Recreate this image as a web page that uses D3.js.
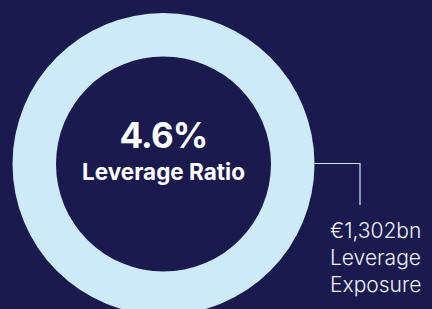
<!DOCTYPE html>
<html>
<head>
<meta charset="utf-8">
<script src="https://cdn.jsdelivr.net/npm/d3@7"></script>
<style>
  html, body { margin: 0; padding: 0; background: #1b1a4f; }
  svg { display: block; }
</style>
</head>
<body>
<div id="chart"></div>
<script>
// values
const ratioValue = [4.6];
const ratioLabel = ['Leverage Ratio'];
const exposureValue = [1302];
const exposureLabel = ['Leverage', 'Exposure'];

const width = 432, height = 309;
const cx = 163.5, cy = 164;
const outerR = 151, innerR = 107.5;

const svg = d3.select('#chart')
  .append('svg')
  .attr('width', width)
  .attr('height', height);

svg.append('rect')
  .attr('width', width)
  .attr('height', height)
  .attr('fill', '#1b1a4f');

const pie = d3.pie().sort(null).value(d => d);
const arc = d3.arc().innerRadius(innerR).outerRadius(outerR);

const g = svg.append('g').attr('transform', `translate(${cx},${cy})`);

g.selectAll('path')
  .data(pie(exposureValue))
  .join('path')
  .attr('d', arc)
  .attr('fill', '#cceaf8');

const fmt = d3.format('.1f');
g.append('text')
  .attr('text-anchor', 'middle')
  .attr('y', -16)
  .attr('fill', '#fff')
  .style('font', '700 35px Inter')
  .style('letter-spacing', '-0.8px')
  .text(fmt(ratioValue[0]) + '%');

g.append('text')
  .attr('text-anchor', 'middle')
  .attr('y', 16)
  .attr('fill', '#fff')
  .style('font', '700 22.5px Inter')
  .text(ratioLabel[0]);

// leader line from the ring to the exposure label
const lineX = 360, lineBottom = 205;
svg.append('path')
  .attr('d', `M${cx + outerR},${cy - 0.5}H${lineX}V${lineBottom}`)
  .attr('fill', 'none')
  .attr('stroke', '#cfe6f4')
  .attr('stroke-width', 1.2);

const lbl = svg.append('text')
  .attr('x', 330)
  .attr('y', 238)
  .attr('fill', '#eef2f8')
  .style('font', '300 21px Inter');

lbl.append('tspan')
  .attr('x', 330)
  .text('€' + d3.format(',')(exposureValue[0]) + 'bn');

exposureLabel.forEach((t, i) => {
  lbl.append('tspan')
    .attr('x', 330)
    .attr('dy', 27)
    .text(t);
});
</script>
</body>
</html>
